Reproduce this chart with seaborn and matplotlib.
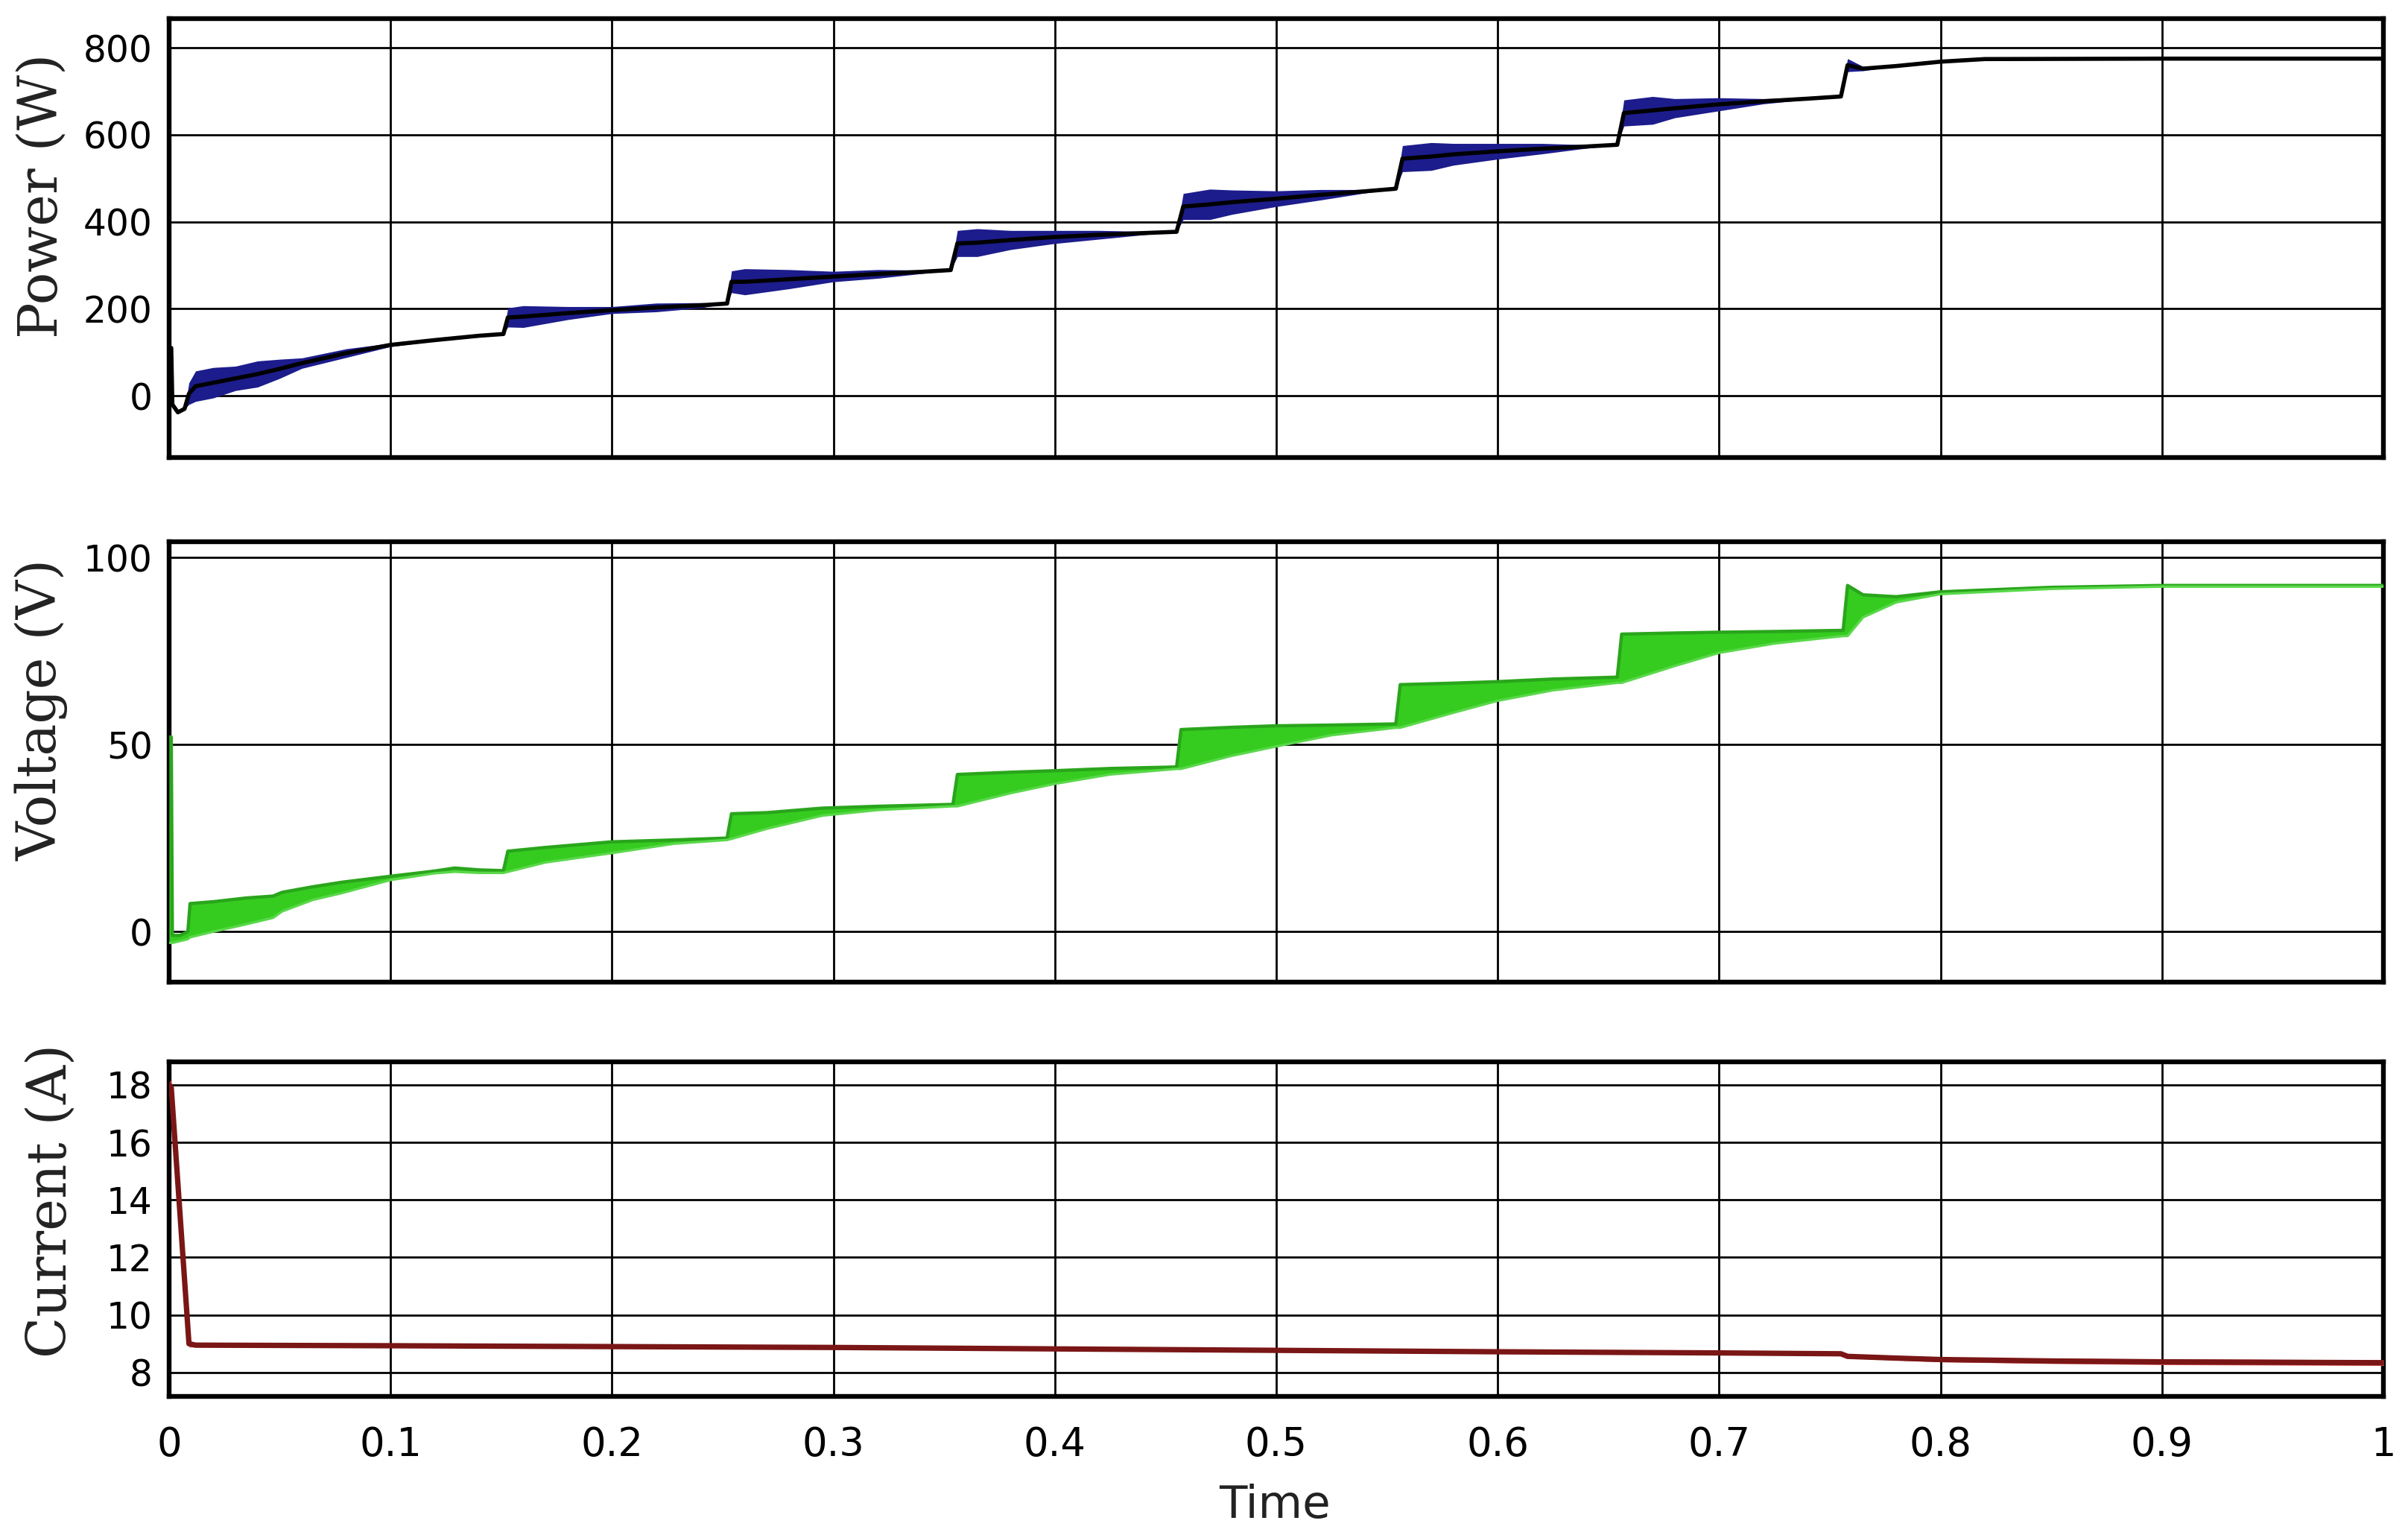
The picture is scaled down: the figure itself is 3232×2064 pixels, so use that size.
import numpy as np
import matplotlib
matplotlib.use('Agg')
import matplotlib.pyplot as plt
import seaborn as sns

# ---- data ----
time_ticks = [0, 0.1, 0.2, 0.3, 0.4, 0.5, 0.6, 0.7, 0.8, 0.9, 1.0]
time_labels = ['0', '0.1', '0.2', '0.3', '0.4', '0.5', '0.6', '0.7', '0.8', '0.9', '1']

# power (W): centre line and half-width of the oscillation band
p_t = [0, 0.001, 0.0015, 0.004, 0.007, 0.009, 0.012, 0.02, 0.03, 0.04, 0.05, 0.06, 0.08,
       0.1, 0.12, 0.14, 0.151, 0.153, 0.16, 0.18, 0.2, 0.22, 0.24, 0.252, 0.254,
       0.26, 0.28, 0.3, 0.32, 0.34, 0.353, 0.356, 0.365, 0.38, 0.4, 0.42, 0.44,
       0.455, 0.458, 0.47, 0.48, 0.5, 0.52, 0.54, 0.554, 0.557, 0.57, 0.58, 0.6,
       0.62, 0.64, 0.654, 0.657, 0.67, 0.68, 0.7, 0.72, 0.74, 0.755, 0.758, 0.765,
       0.78, 0.8, 0.82, 0.9, 1.0]
p_mid = [110, 110, -20, -38, -30, 5, 22, 30, 40, 50, 62, 75, 98,
         117, 128, 138, 142, 180, 182, 190, 197, 203, 208, 212, 262,
         262, 268, 274, 280, 285, 289, 350, 352, 358, 365, 370, 374,
         377, 435, 440, 445, 453, 462, 470, 476, 545, 550, 555, 562,
         568, 573, 577, 650, 656, 661, 670, 677, 683, 688, 760, 752,
         758, 768, 774, 775, 775]
p_hw = [0, 0, 0, 0, 0, 25, 35, 35, 28, 30, 22, 12, 10,
        4, 2, 2, 0, 22, 25, 15, 8, 10, 6, 0, 25,
        30, 22, 12, 10, 4, 0, 30, 32, 22, 15, 10, 4,
        0, 30, 35, 28, 18, 12, 4, 0, 30, 32, 25, 18,
        12, 4, 0, 30, 32, 22, 15, 6, 2, 0, 15, 5,
        0, 0, 0, 0, 0]

# voltage (V): lower and upper edge of the green band
v_t = [0, 0.001, 0.0015, 0.005, 0.0085, 0.0095, 0.02, 0.035, 0.047, 0.051, 0.065,
       0.078, 0.1, 0.12, 0.129, 0.14, 0.151, 0.153, 0.17, 0.2, 0.228, 0.252, 0.254,
       0.27, 0.295, 0.32, 0.354, 0.356, 0.38, 0.4, 0.425, 0.455, 0.457, 0.48, 0.5,
       0.525, 0.554, 0.556, 0.58, 0.6, 0.625, 0.654, 0.656, 0.68, 0.7, 0.725, 0.756,
       0.758, 0.765, 0.78, 0.8, 0.85, 0.9, 1.0]
v_high = [52, 52, -1, -1, 0, 7.5, 8, 9, 9.5, 10.5, 12,
          13.2, 14.8, 16.2, 17, 16.5, 16.3, 21.5, 22.5, 24, 24.5, 25, 31.5,
          31.8, 33, 33.5, 34, 42, 42.6, 43, 43.6, 44, 54, 54.6, 55,
          55.2, 55.5, 66, 66.4, 66.8, 67.5, 68, 79.5, 79.8, 80, 80.2, 80.5,
          92.5, 90, 89.5, 90.8, 92, 92.5, 92.5]
v_low = [-3, -3, -3, -2.5, -2, -1.5, 0, 2, 3.7, 5.4, 8.5,
         10.3, 13.8, 15.6, 16, 15.7, 15.7, 16, 18.5, 21, 23.5, 24.5, 24.8,
         27.5, 31, 32.5, 33.5, 33.5, 37, 39.5, 42, 43.5, 43.5, 47, 49.5,
         52.5, 54.5, 54.5, 58.5, 61.7, 64.5, 66.5, 66.5, 71, 74.5, 77, 79,
         79, 84, 88, 90.2, 91.6, 92.2, 92.2]

# current (A)
c_t = [0, 0.001, 0.009, 0.012, 0.1, 0.2, 0.3, 0.4, 0.5, 0.6, 0.7, 0.755, 0.758,
       0.78, 0.8, 0.85, 0.9, 1.0]
c_val = [18, 17.9, 9.0, 8.95, 8.93, 8.9, 8.87, 8.82, 8.77, 8.72, 8.68, 8.65, 8.56,
         8.5, 8.45, 8.4, 8.37, 8.34]
c_hw = [0.05, 0.3, 0.12, 0.06, 0.05, 0.05, 0.05, 0.05, 0.05, 0.05, 0.05, 0.05, 0.06,
        0.07, 0.08, 0.09, 0.1, 0.1]

sns.set_theme(style='white')
plt.rcParams['font.family'] = ['DejaVu Sans']

fig = plt.figure(figsize=(16.16, 10.32), dpi=200)
fig.patch.set_facecolor('white')

ax_p = fig.add_axes([0.0702, 0.7025, 0.9196, 0.2854])
ax_v = fig.add_axes([0.0702, 0.3614, 0.9196, 0.2864])
ax_c = fig.add_axes([0.0702, 0.0921, 0.9196, 0.2175])


def style_axis(ax, yticks, ylim, label, label_x, label_y):
    ax.set_xlim(0, 1)
    ax.set_ylim(*ylim)
    ax.set_xticks(time_ticks)
    ax.set_yticks(yticks)
    ax.set_yticklabels([str(v) for v in yticks], fontsize=17.5)
    ax.grid(True, color='black', linewidth=1.0)
    ax.set_axisbelow(True)
    for s in ax.spines.values():
        s.set_color('black')
        s.set_linewidth(2.3)
    ax.tick_params(axis='y', direction='in', length=9, width=2.2, pad=8, colors='black')
    ax.tick_params(axis='x', direction='in', length=7, width=1.5, colors='black')
    ax.set_ylabel(label, fontsize=26, family='DejaVu Serif', color='#222222')
    ax.yaxis.label.set_verticalalignment('center')
    ax.yaxis.set_label_coords(label_x, label_y)
    ax.set_xlabel('')


# power
p_mid_a = np.array(p_mid, dtype=float)
p_hw_a = np.array(p_hw, dtype=float)
ax_p.fill_between(p_t, p_mid_a - p_hw_a, p_mid_a + p_hw_a, color='#1c1c8c', lw=0, zorder=3)
sns.lineplot(x=p_t, y=p_mid, ax=ax_p, color='black', lw=2.0, errorbar=None, zorder=4)
style_axis(ax_p, [0, 200, 400, 600, 800], (-142, 867), 'Power (W)', -0.0575, 0.596)
ax_p.set_xticklabels([])

# voltage
ax_v.fill_between(v_t, v_low, v_high, color='#35cc1f', lw=0, zorder=3)
sns.lineplot(x=v_t, y=v_high, ax=ax_v, color='#2aa51c', lw=1.6, errorbar=None, zorder=4)
sns.lineplot(x=v_t, y=v_low, ax=ax_v, color='#5ad84a', lw=1.2, errorbar=None, zorder=4)
style_axis(ax_v, [0, 50, 100], (-13.5, 104.2), 'Voltage (V)', -0.0575, 0.618)
ax_v.set_xticklabels([])

# current
c_val_a = np.array(c_val, dtype=float)
c_hw_a = np.array(c_hw, dtype=float)
ax_c.fill_between(c_t, c_val_a - c_hw_a, c_val_a + c_hw_a, color='#e05a5a', lw=0, zorder=3)
sns.lineplot(x=c_t, y=c_val, ax=ax_c, color='#7a1616', lw=2.6, errorbar=None, zorder=4)
style_axis(ax_c, [8, 10, 12, 14, 16, 18], (7.17, 18.8), 'Current (A)', -0.0535, 0.584)
ax_c.set_xticklabels(time_labels, fontsize=19)
ax_c.tick_params(axis='x', pad=14)

fig.text(0.5294, 0.021, 'Time', ha='center', va='center', fontsize=22, color='#222222')

fig.savefig('out.png', dpi=200, facecolor='white')
